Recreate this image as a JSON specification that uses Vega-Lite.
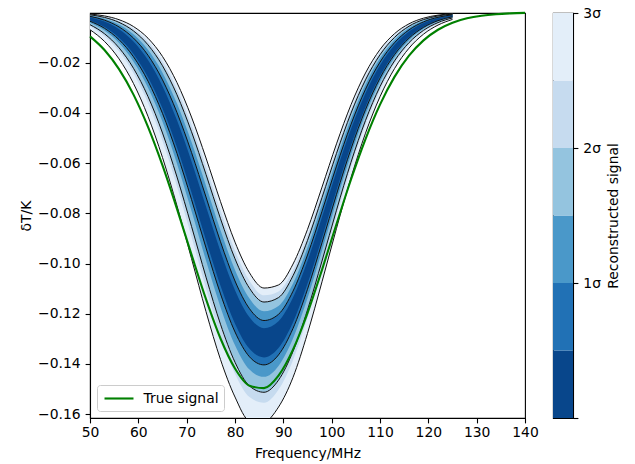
{
  "$schema": "https://vega.github.io/schema/vega-lite/v6.json",
  "autosize": {"type": "pad"},
  "padding": {"left": 19, "top": 5, "right": 2, "bottom": 2},
  "background": "white",
  "bounds": "flush",
  "spacing": 28,
  "config": {
    "font": "DejaVu Sans",
    "view": {"stroke": "black", "strokeWidth": 1.1},
    "axis": {
      "labelFont": "DejaVu Sans", "labelFontSize": 13.9, "labelColor": "black",
      "titleFont": "DejaVu Sans", "titleFontSize": 13.9, "titleFontWeight": "normal", "titleColor": "black",
      "tickColor": "black", "tickSize": 4.9, "tickWidth": 1.1,
      "domainColor": "black", "domainWidth": 1.1, "grid": false,
      "labelPadding": 4.9, "labelFlush": false, "labelOverlap": false
    },
    "legend": {"labelFont": "DejaVu Sans", "labelFontSize": 13.9, "labelColor": "black"}
  },
  "datasets": {
    "band": [
      {"x":50,"k":0.5,"lo":-0.00317,"hi":-0.00185},{"x":50,"k":1,"lo":-0.00348,"hi":-0.00153},{"x":50,"k":1.5,"lo":-0.00404,"hi":-0.00119},{"x":50,"k":2,"lo":-0.00485,"hi":-0.00092},{"x":50,"k":2.5,"lo":-0.00547,"hi":-0.00076},{"x":50,"k":3,"lo":-0.00686,"hi":-0.00061},
      {"x":53,"k":0.5,"lo":-0.00581,"hi":-0.00361},{"x":53,"k":1,"lo":-0.0063,"hi":-0.00305},{"x":53,"k":1.5,"lo":-0.0072,"hi":-0.00246},{"x":53,"k":2,"lo":-0.00847,"hi":-0.00196},{"x":53,"k":2.5,"lo":-0.00942,"hi":-0.00166},{"x":53,"k":3,"lo":-0.01152,"hi":-0.00136},
      {"x":56,"k":0.5,"lo":-0.01007,"hi":-0.00665},{"x":56,"k":1,"lo":-0.01082,"hi":-0.00574},{"x":56,"k":1.5,"lo":-0.01218,"hi":-0.00478},{"x":56,"k":2,"lo":-0.01406,"hi":-0.00392},{"x":56,"k":2.5,"lo":-0.01546,"hi":-0.00339},{"x":56,"k":3,"lo":-0.01847,"hi":-0.00286},
      {"x":59,"k":0.5,"lo":-0.01655,"hi":-0.01155},{"x":59,"k":1,"lo":-0.01765,"hi":-0.01019},{"x":59,"k":1.5,"lo":-0.01959,"hi":-0.0087},{"x":59,"k":2,"lo":-0.02224,"hi":-0.00734},{"x":59,"k":2.5,"lo":-0.02416,"hi":-0.00648},{"x":59,"k":3,"lo":-0.0283,"hi":-0.0056},
      {"x":62,"k":0.5,"lo":-0.02584,"hi":-0.01895},{"x":62,"k":1,"lo":-0.02734,"hi":-0.01702},{"x":62,"k":1.5,"lo":-0.02996,"hi":-0.01489},{"x":62,"k":2,"lo":-0.03349,"hi":-0.01289},{"x":62,"k":2.5,"lo":-0.03603,"hi":-0.0116},{"x":62,"k":3,"lo":-0.04138,"hi":-0.01024},
      {"x":65,"k":0.5,"lo":-0.03827,"hi":-0.02936},{"x":65,"k":1,"lo":-0.04022,"hi":-0.02683},{"x":65,"k":1.5,"lo":-0.04356,"hi":-0.02397},{"x":65,"k":2,"lo":-0.04802,"hi":-0.02122},{"x":65,"k":2.5,"lo":-0.05118,"hi":-0.01943},{"x":65,"k":3,"lo":-0.05778,"hi":-0.01751},
      {"x":68,"k":0.5,"lo":-0.05378,"hi":-0.04295},{"x":68,"k":1,"lo":-0.05617,"hi":-0.03985},{"x":68,"k":1.5,"lo":-0.06021,"hi":-0.03627},{"x":68,"k":2,"lo":-0.06555,"hi":-0.03279},{"x":68,"k":2.5,"lo":-0.06929,"hi":-0.03046},{"x":68,"k":3,"lo":-0.07703,"hi":-0.02795},
      {"x":71,"k":0.5,"lo":-0.07169,"hi":-0.05932},{"x":71,"k":1,"lo":-0.07449,"hi":-0.05575},{"x":71,"k":1.5,"lo":-0.07912,"hi":-0.0516},{"x":71,"k":2,"lo":-0.08519,"hi":-0.0475},{"x":71,"k":2.5,"lo":-0.08942,"hi":-0.0447},{"x":71,"k":3,"lo":-0.09804,"hi":-0.04165},
      {"x":74,"k":0.5,"lo":-0.0907,"hi":-0.07733},{"x":74,"k":1,"lo":-0.09378,"hi":-0.07352},{"x":74,"k":1.5,"lo":-0.09884,"hi":-0.06901},{"x":74,"k":2,"lo":-0.10542,"hi":-0.06449},{"x":74,"k":2.5,"lo":-0.10995,"hi":-0.06139},{"x":74,"k":3,"lo":-0.11916,"hi":-0.05797},
      {"x":77,"k":0.5,"lo":-0.10887,"hi":-0.09519},{"x":77,"k":1,"lo":-0.11211,"hi":-0.09134},{"x":77,"k":1.5,"lo":-0.11738,"hi":-0.08677},{"x":77,"k":2,"lo":-0.12421,"hi":-0.08214},{"x":77,"k":2.5,"lo":-0.12887,"hi":-0.07892},{"x":77,"k":3,"lo":-0.13827,"hi":-0.07535},
      {"x":80,"k":0.5,"lo":-0.124,"hi":-0.11064},{"x":80,"k":1,"lo":-0.12727,"hi":-0.10696},{"x":80,"k":1.5,"lo":-0.13252,"hi":-0.10256},{"x":80,"k":2,"lo":-0.13933,"hi":-0.0981},{"x":80,"k":2.5,"lo":-0.14394,"hi":-0.09494},{"x":80,"k":3,"lo":-0.1532,"hi":-0.09148},
      {"x":83,"k":0.5,"lo":-0.134,"hi":-0.1214},{"x":83,"k":1,"lo":-0.13718,"hi":-0.11801},{"x":83,"k":1.5,"lo":-0.14226,"hi":-0.11396},{"x":83,"k":2,"lo":-0.1488,"hi":-0.10985},{"x":83,"k":2.5,"lo":-0.15322,"hi":-0.10691},{"x":83,"k":3,"lo":-0.1626,"hi":-0.1037},
      {"x":86,"k":0.5,"lo":-0.1374,"hi":-0.12575},{"x":86,"k":1,"lo":-0.14039,"hi":-0.12271},{"x":86,"k":1.5,"lo":-0.14516,"hi":-0.11904},{"x":86,"k":2,"lo":-0.1513,"hi":-0.11535},{"x":86,"k":2.5,"lo":-0.15545,"hi":-0.11268},{"x":86,"k":3,"lo":-0.163,"hi":-0.10978},
      {"x":89,"k":0.5,"lo":-0.13368,"hi":-0.12299},{"x":89,"k":1,"lo":-0.13642,"hi":-0.12023},{"x":89,"k":1.5,"lo":-0.14082,"hi":-0.11691},{"x":89,"k":2,"lo":-0.14648,"hi":-0.11358},{"x":89,"k":2.5,"lo":-0.1503,"hi":-0.11115},{"x":89,"k":3,"lo":-0.1572,"hi":-0.10854},
      {"x":92,"k":0.5,"lo":-0.1234,"hi":-0.11356},{"x":92,"k":1,"lo":-0.12587,"hi":-0.11101},{"x":92,"k":1.5,"lo":-0.12988,"hi":-0.10794},{"x":92,"k":2,"lo":-0.13502,"hi":-0.10487},{"x":92,"k":2.5,"lo":-0.1385,"hi":-0.10262},{"x":92,"k":3,"lo":-0.14537,"hi":-0.10022},
      {"x":95,"k":0.5,"lo":-0.10808,"hi":-0.099},{"x":95,"k":1,"lo":-0.11027,"hi":-0.0966},{"x":95,"k":1.5,"lo":-0.11388,"hi":-0.09367},{"x":95,"k":2,"lo":-0.11849,"hi":-0.0908},{"x":95,"k":2.5,"lo":-0.12165,"hi":-0.08866},{"x":95,"k":3,"lo":-0.12782,"hi":-0.0864},
      {"x":98,"k":0.5,"lo":-0.08982,"hi":-0.08147},{"x":98,"k":1,"lo":-0.09172,"hi":-0.07919},{"x":98,"k":1.5,"lo":-0.09492,"hi":-0.07643},{"x":98,"k":2,"lo":-0.09902,"hi":-0.07372},{"x":98,"k":2.5,"lo":-0.10181,"hi":-0.0717},{"x":98,"k":3,"lo":-0.10729,"hi":-0.06957},
      {"x":101,"k":0.5,"lo":-0.07082,"hi":-0.06331},{"x":101,"k":1,"lo":-0.07246,"hi":-0.06119},{"x":101,"k":1.5,"lo":-0.07521,"hi":-0.05862},{"x":101,"k":2,"lo":-0.07876,"hi":-0.05613},{"x":101,"k":2.5,"lo":-0.08121,"hi":-0.05428},{"x":101,"k":3,"lo":-0.086,"hi":-0.05232},
      {"x":104,"k":0.5,"lo":-0.05299,"hi":-0.04645},{"x":104,"k":1,"lo":-0.05434,"hi":-0.04455},{"x":104,"k":1.5,"lo":-0.05667,"hi":-0.04228},{"x":104,"k":2,"lo":-0.05967,"hi":-0.04008},{"x":104,"k":2.5,"lo":-0.06175,"hi":-0.03846},{"x":104,"k":3,"lo":-0.06581,"hi":-0.03674},
      {"x":107,"k":0.5,"lo":-0.03762,"hi":-0.03216},{"x":107,"k":1,"lo":-0.0387,"hi":-0.03057},{"x":107,"k":1.5,"lo":-0.04058,"hi":-0.02866},{"x":107,"k":2,"lo":-0.04303,"hi":-0.02683},{"x":107,"k":2.5,"lo":-0.04474,"hi":-0.02549},{"x":107,"k":3,"lo":-0.0481,"hi":-0.02409},
      {"x":110,"k":0.5,"lo":-0.02534,"hi":-0.02103},{"x":110,"k":1,"lo":-0.02616,"hi":-0.01976},{"x":110,"k":1.5,"lo":-0.02763,"hi":-0.01826},{"x":110,"k":2,"lo":-0.02953,"hi":-0.01684},{"x":110,"k":2.5,"lo":-0.03089,"hi":-0.01582},{"x":110,"k":3,"lo":-0.03355,"hi":-0.01475},
      {"x":113,"k":0.5,"lo":-0.01619,"hi":-0.01299},{"x":113,"k":1,"lo":-0.01679,"hi":-0.01204},{"x":113,"k":1.5,"lo":-0.01788,"hi":-0.01094},{"x":113,"k":2,"lo":-0.0193,"hi":-0.00992},{"x":113,"k":2.5,"lo":-0.02033,"hi":-0.00919},{"x":113,"k":3,"lo":-0.02235,"hi":-0.00844},
      {"x":116,"k":0.5,"lo":-0.00982,"hi":-0.00757},{"x":116,"k":1,"lo":-0.01024,"hi":-0.00692},{"x":116,"k":1.5,"lo":-0.01101,"hi":-0.00616},{"x":116,"k":2,"lo":-0.01202,"hi":-0.00547},{"x":116,"k":2.5,"lo":-0.01275,"hi":-0.005},{"x":116,"k":3,"lo":-0.01422,"hi":-0.00451},
      {"x":119,"k":0.5,"lo":-0.00565,"hi":-0.00417},{"x":119,"k":1,"lo":-0.00593,"hi":-0.00374},{"x":119,"k":1.5,"lo":-0.00644,"hi":-0.00326},{"x":119,"k":2,"lo":-0.00712,"hi":-0.00283},{"x":119,"k":2.5,"lo":-0.00762,"hi":-0.00254},{"x":119,"k":3,"lo":-0.00864,"hi":-0.00225},
      {"x":122,"k":0.5,"lo":-0.00308,"hi":-0.00216},{"x":122,"k":1,"lo":-0.00325,"hi":-0.00191},{"x":122,"k":1.5,"lo":-0.00358,"hi":-0.00162},{"x":122,"k":2,"lo":-0.00402,"hi":-0.00137},{"x":122,"k":2.5,"lo":-0.00434,"hi":-0.00121},{"x":122,"k":3,"lo":-0.00501,"hi":-0.00105},
      {"x":125,"k":0.5,"lo":-0.0016,"hi":-0.00106},{"x":125,"k":1,"lo":-0.0017,"hi":-0.00092},{"x":125,"k":1.5,"lo":-0.00189,"hi":-0.00076},{"x":125,"k":2,"lo":-0.00216,"hi":-0.00063},{"x":125,"k":2.5,"lo":-0.00236,"hi":-0.00054},{"x":125,"k":3,"lo":-0.00277,"hi":-0.00046}
    ],
    "truth": [
      {"x":50,"v":-0.00951},{"x":53,"v":-0.01495},{"x":56,"v":-0.02256},{"x":59,"v":-0.03272},{"x":62,"v":-0.04557},{"x":65,"v":-0.06093},{"x":68,"v":-0.07824},{"x":71,"v":-0.09647},{"x":74,"v":-0.11422},{"x":77,"v":-0.12987},{"x":80,"v":-0.1418},{"x":83,"v":-0.14866},{"x":86,"v":-0.14966},{"x":89,"v":-0.14469},{"x":92,"v":-0.13433},{"x":95,"v":-0.11975},{"x":98,"v":-0.10253},{"x":101,"v":-0.08427},{"x":104,"v":-0.06652},{"x":107,"v":-0.05043},{"x":110,"v":-0.0367},{"x":113,"v":-0.02566},{"x":116,"v":-0.01722},{"x":119,"v":-0.0111},{"x":122,"v":-0.00687},{"x":125,"v":-0.00408},{"x":128,"v":-0.00233},{"x":131,"v":-0.00128},{"x":134,"v":-0.00067},{"x":137,"v":-0.00034},{"x":140,"v":-0.00016}
    ],
    "cbar": [
      {"k":0.5,"from":0,"to":0.5},{"k":1,"from":0.5,"to":1},{"k":1.5,"from":1,"to":1.5},{"k":2,"from":1.5,"to":2},{"k":2.5,"from":2,"to":2.5},{"k":3,"from":2.5,"to":3}
    ]
  },
  "hconcat": [
    {
      "width": 435,
      "height": 405,
      "layer": [
        {
          "data": {"name": "band"},
          "transform": [{"filter": "datum.k == 3"}],
          "mark": {"type": "area", "interpolate": "monotone", "clip": true},
          "encoding": {
            "x": {"field": "x", "type": "quantitative", "scale": {"domain": [50, 140], "nice": false, "zero": false},
                  "axis": {"title": "Frequency/MHz", "values": [50,60,70,80,90,100,110,120,130,140], "labelPadding": 2.5, "titlePadding": 7}},
            "y": {"field": "lo", "type": "quantitative", "scale": {"domain": [-0.16155, -0.0002], "nice": false, "zero": false},
                  "axis": {"title": "δT/K", "values": [-0.16,-0.14,-0.12,-0.1,-0.08,-0.06,-0.04,-0.02], "labelExpr": "replace(format(datum.value, '.2f'), '-', '−')", "titlePadding": 4}},
            "y2": {"field": "hi"},
            "color": {"field": "k", "type": "ordinal", "scale": {"domain": [0.5,1,1.5,2,2.5,3], "range": ["#08468b","#2171b5","#4a98c9","#94c4df","#c6dbef","#e3eef9"]}, "legend": null}
          }
        },
        {
          "data": {"name": "band"},
          "transform": [{"filter": "datum.k == 2.5"}],
          "mark": {"type": "area", "interpolate": "monotone"},
          "encoding": {
            "x": {"field": "x", "type": "quantitative"},
            "y": {"field": "lo", "type": "quantitative", "title": "δT/K"},
            "y2": {"field": "hi"},
            "color": {"field": "k", "type": "ordinal", "legend": null}
          }
        },
        {
          "data": {"name": "band"},
          "transform": [{"filter": "datum.k == 2"}],
          "mark": {"type": "area", "interpolate": "monotone"},
          "encoding": {
            "x": {"field": "x", "type": "quantitative"},
            "y": {"field": "lo", "type": "quantitative", "title": "δT/K"},
            "y2": {"field": "hi"},
            "color": {"field": "k", "type": "ordinal", "legend": null}
          }
        },
        {
          "data": {"name": "band"},
          "transform": [{"filter": "datum.k == 1.5"}],
          "mark": {"type": "area", "interpolate": "monotone"},
          "encoding": {
            "x": {"field": "x", "type": "quantitative"},
            "y": {"field": "lo", "type": "quantitative", "title": "δT/K"},
            "y2": {"field": "hi"},
            "color": {"field": "k", "type": "ordinal", "legend": null}
          }
        },
        {
          "data": {"name": "band"},
          "transform": [{"filter": "datum.k == 1"}],
          "mark": {"type": "area", "interpolate": "monotone"},
          "encoding": {
            "x": {"field": "x", "type": "quantitative"},
            "y": {"field": "lo", "type": "quantitative", "title": "δT/K"},
            "y2": {"field": "hi"},
            "color": {"field": "k", "type": "ordinal", "legend": null}
          }
        },
        {
          "data": {"name": "band"},
          "transform": [{"filter": "datum.k == 0.5"}],
          "mark": {"type": "area", "interpolate": "monotone"},
          "encoding": {
            "x": {"field": "x", "type": "quantitative"},
            "y": {"field": "lo", "type": "quantitative", "title": "δT/K"},
            "y2": {"field": "hi"},
            "color": {"field": "k", "type": "ordinal", "legend": null}
          }
        },
        {
          "data": {"name": "band"},
          "transform": [{"filter": "datum.k == 3"}],
          "mark": {"type": "line", "interpolate": "monotone", "clip": true, "color": "#111111", "strokeWidth": 1},
          "encoding": {
            "x": {"field": "x", "type": "quantitative"},
            "y": {"field": "lo", "type": "quantitative", "title": "δT/K"}
          }
        },
        {
          "data": {"name": "band"},
          "transform": [{"filter": "datum.k == 3"}],
          "mark": {"type": "line", "interpolate": "monotone", "color": "#111111", "strokeWidth": 1},
          "encoding": {
            "x": {"field": "x", "type": "quantitative"},
            "y": {"field": "hi", "type": "quantitative", "title": "δT/K"}
          }
        },
        {
          "data": {"name": "band"},
          "transform": [{"filter": "datum.k == 2"}],
          "mark": {"type": "line", "interpolate": "monotone", "color": "#111111", "strokeWidth": 1},
          "encoding": {
            "x": {"field": "x", "type": "quantitative"},
            "y": {"field": "lo", "type": "quantitative", "title": "δT/K"}
          }
        },
        {
          "data": {"name": "band"},
          "transform": [{"filter": "datum.k == 2"}],
          "mark": {"type": "line", "interpolate": "monotone", "color": "#111111", "strokeWidth": 1},
          "encoding": {
            "x": {"field": "x", "type": "quantitative"},
            "y": {"field": "hi", "type": "quantitative", "title": "δT/K"}
          }
        },
        {
          "data": {"name": "band"},
          "transform": [{"filter": "datum.k == 1"}],
          "mark": {"type": "line", "interpolate": "monotone", "color": "#111111", "strokeWidth": 1},
          "encoding": {
            "x": {"field": "x", "type": "quantitative"},
            "y": {"field": "lo", "type": "quantitative", "title": "δT/K"}
          }
        },
        {
          "data": {"name": "band"},
          "transform": [{"filter": "datum.k == 1"}],
          "mark": {"type": "line", "interpolate": "monotone", "color": "#111111", "strokeWidth": 1},
          "encoding": {
            "x": {"field": "x", "type": "quantitative"},
            "y": {"field": "hi", "type": "quantitative", "title": "δT/K"}
          }
        },
        {
          "data": {"name": "truth"},
          "mark": {"type": "line", "interpolate": "monotone", "strokeWidth": 2.1},
          "encoding": {
            "x": {"field": "x", "type": "quantitative"},
            "y": {"field": "v", "type": "quantitative", "title": "δT/K"},
            "stroke": {
              "datum": "True signal",
              "type": "nominal",
              "scale": {"domain": ["True signal"], "range": ["#008000"]},
              "legend": {
                "title": null, "orient": "bottom-left", "offset": 7,
                "symbolType": "M-2.07,0H2.07", "symbolSize": 196, "symbolStrokeWidth": 2.1, "symbolOffset": 8.5,
                "labelOffset": 16, "padding": 5, "cornerRadius": 3,
                "fillColor": "rgba(255,255,255,0.8)", "strokeColor": "#cccccc"
              }
            }
          }
        }
      ]
    },
    {
      "width": 20,
      "height": 405,
      "data": {"name": "cbar"},
      "mark": {"type": "rect"},
      "encoding": {
        "y": {"field": "from", "type": "quantitative", "scale": {"domain": [0, 3], "nice": false, "zero": false},
              "axis": {"orient": "right", "values": [0, 1, 2, 3], "labelExpr": "datum.value == 0 ? '' : datum.value + 'σ'",
                       "title": "Reconstructed signal", "titleAngle": 270, "titleBaseline": "top", "titlePadding": 6, "domain": true}},
        "y2": {"field": "to"},
        "color": {"field": "k", "type": "ordinal", "legend": null}
      }
    }
  ]
}
